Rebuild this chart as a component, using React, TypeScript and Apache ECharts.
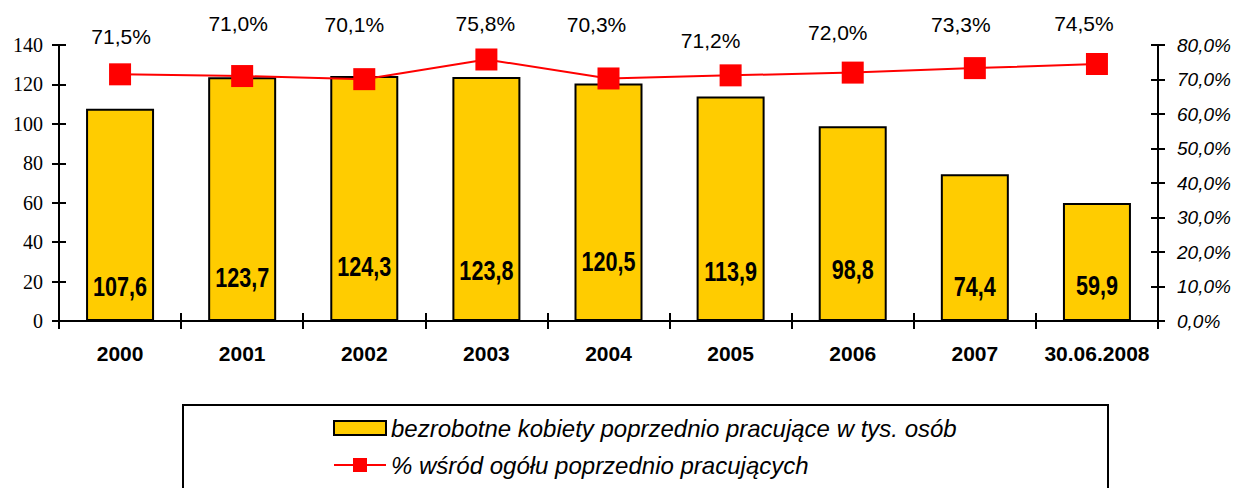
import React, { useEffect, useRef } from "react";
import * as echarts from "echarts";

const categories = ["2000", "2001", "2002", "2003", "2004", "2005", "2006", "2007", "30.06.2008"];
const womenThousands = [107.6, 123.7, 124.3, 123.8, 120.5, 113.9, 98.8, 74.4, 59.9];
const sharePercent = [71.5, 71.0, 70.1, 75.8, 70.3, 71.2, 72.0, 73.3, 74.5];

const leftTicks = { min: 0, max: 140, interval: 20 };
const rightTicks = { min: 0, max: 80, interval: 10 };

// label placement tweaks (style only)
const barLabelLift = [34, 43, 54, 50, 59, 49, 51, 34, 35];
const lineLabelOffset: [number, number][] = [
  [1, -38], [-4, -53], [-10, -55], [-1, -36], [-12, -54], [-20, -35], [-15, -40], [-14, -44], [-13, -40],
];

const comma = (v: number) => v.toFixed(1).replace(".", ",");
const barName = "bezrobotne kobiety poprzednio pracujące w tys. osób";
const lineName = "% wśród ogółu poprzednio pracujących";

export default function App() {
  const ref = useRef<HTMLDivElement>(null);
  useEffect(() => {
    if (!ref.current) return;
    const chart = echarts.init(ref.current, null, { renderer: "svg" });
    const black = "#000";
    const boxRect = {
      type: "rect",
      id: "legendBox",
      z: -10,
      shape: { x: 183, y: 405, width: 925, height: 100 },
      style: { fill: "none", stroke: black, lineWidth: 2 },
    };
    chart.setOption({
      animation: false,
      backgroundColor: "#fff",
      grid: { left: 59, right: 82, top: 45, bottom: 167, containLabel: false },
      legend: {
        orient: "vertical",
        left: 333,
        top: 416,
        itemGap: 13,
        itemWidth: 52,
        itemHeight: 14,
        padding: 0,
        textStyle: { fontFamily: "Liberation Sans, Arial", fontStyle: "italic", fontSize: 24, color: black },
        data: [
          { name: barName, icon: "rect" },
          {
            name: lineName,
            icon: "path://M0,6H19V0H33V6H52V8H33V14H19V8H0Z",
            itemStyle: { color: "#FF0000", borderWidth: 0 },
          },
        ],
      },
      graphic: [boxRect],
      xAxis: [
        {
          type: "category",
          data: categories,
          position: "bottom",
          axisLine: { lineStyle: { color: black, width: 2 } },
          axisTick: { show: true, length: 8, lineStyle: { color: black, width: 2 } },
          axisLabel: {
            color: black,
            fontFamily: "Liberation Sans, Arial",
            fontWeight: "bold",
            fontSize: 21,
            margin: 22,
            interval: 0,
          },
        },
        {
          type: "category",
          data: categories,
          position: "bottom",
          axisLine: { show: false },
          axisTick: { show: true, inside: true, length: 8, lineStyle: { color: black, width: 2 } },
          axisLabel: { show: false },
        },
      ],
      yAxis: [
        {
          type: "value",
          position: "left",
          ...leftTicks,
          splitLine: { show: false },
          axisLine: { show: true, lineStyle: { color: black, width: 2 } },
          axisTick: { show: true, length: 7, lineStyle: { color: black, width: 2 } },
          axisLabel: {
            color: black,
            fontFamily: "Liberation Serif, Times New Roman",
            fontSize: 20,
            margin: 16,
          },
        },
        {
          type: "value",
          position: "right",
          ...rightTicks,
          splitLine: { show: false },
          axisLine: { show: true, lineStyle: { color: black, width: 2 } },
          axisTick: { show: true, length: 7, lineStyle: { color: black, width: 2 } },
          axisLabel: {
            color: black,
            fontFamily: "Liberation Sans, Arial",
            fontStyle: "italic",
            fontSize: 19,
            margin: 19,
            formatter: (v: number) => comma(v) + "%",
          },
        },
        {
          type: "value",
          position: "left",
          ...leftTicks,
          splitLine: { show: false },
          axisLine: { show: false },
          axisTick: { show: true, inside: true, length: 7, lineStyle: { color: black, width: 2 } },
          axisLabel: { show: false },
        },
        {
          type: "value",
          position: "right",
          ...rightTicks,
          splitLine: { show: false },
          axisLine: { show: false },
          axisTick: { show: true, inside: true, length: 7, lineStyle: { color: black, width: 2 } },
          axisLabel: { show: false },
        },
      ],
      series: [
        {
          name: barName,
          type: "bar",
          yAxisIndex: 0,
          barWidth: 68,
          itemStyle: { color: "#FFCC00", borderColor: black, borderWidth: 2 },
          data: womenThousands,
          z: 2,
        },
        {
          name: lineName,
          type: "line",
          yAxisIndex: 1,
          symbol: "rect",
          symbolSize: 22,
          color: "#FF0000",
          lineStyle: { color: "#FF0000", width: 2 },
          itemStyle: { color: "#FF0000" },
          data: sharePercent.map((v, i) => ({
            value: v,
            label: { offset: lineLabelOffset[i] },
          })),
          label: {
            show: true,
            position: "inside",
            color: black,
            fontFamily: "Liberation Sans, Arial",
            fontSize: 21,
            formatter: (p: any) => comma(p.value) + "%",
          },
          z: 5,
        },
      ],
    });

    // condensed bold bar value labels, positioned through the chart's own scales
    const labels = womenThousands.map((v, i) => {
      const [px, py] = chart.convertToPixel({ xAxisIndex: 0, yAxisIndex: 0 }, [i, 0]) as number[];
      return {
        type: "text",
        id: "barLabel" + i,
        x: px,
        y: py - barLabelLift[i],
        scaleX: 0.8,
        z: 10,
        style: {
          text: comma(v),
          font: "bold 27px 'Liberation Sans', Arial, sans-serif",
          fill: black,
          textAlign: "center",
          textVerticalAlign: "middle",
          align: "center",
          verticalAlign: "middle",
        },
      };
    });
    chart.setOption({ graphic: [boxRect, ...labels] });
    return () => chart.dispose();
  }, []);
  return <div ref={ref} style={{ width: 1240, height: 488, position: "absolute", left: 0, top: 0 }} />;
}
